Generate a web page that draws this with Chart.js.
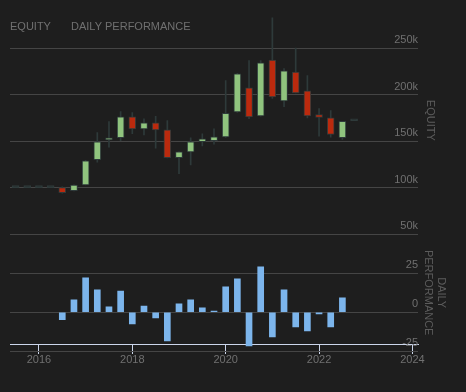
<!DOCTYPE html>
<html>
<head>
<meta charset="utf-8">
<script src="https://cdn.jsdelivr.net/npm/chart.js@4.4.1/dist/chart.umd.min.js"></script>
<style>
  html, body { margin: 0; padding: 0; background: #1e1e1e; }
  #wrap { width: 466px; height: 392px; position: relative; }
</style>
</head>
<body>
<div id="wrap"><canvas id="chart"></canvas></div>
<script>
// quarterly points (decimal years)
const dates  = [2015.5, 2015.75, 2016, 2016.25, 2016.5, 2016.75, 2017, 2017.25, 2017.5, 2017.75,
                2018, 2018.25, 2018.5, 2018.75, 2019, 2019.25, 2019.5, 2019.75, 2020, 2020.25,
                2020.5, 2020.75, 2021, 2021.25, 2021.5, 2021.75, 2022, 2022.25, 2022.5, 2022.75];
const opens  = [100000, 100000, 100000, 100000, 100000, 96700, 103000, 130000, 151500, 153700,
                176200, 163300, 169800, 162300, 132200, 138600, 149400, 150500, 154700, 181600,
                207400, 177300, 237500, 193400, 224600, 204200, 178700, 175200, 153700, 172000];
const highs  = [100000, 100000, 100000, 100000, 101000, 103000, 129500, 159400, 171200, 181900,
                180900, 174100, 176900, 172300, 138600, 153700, 158000, 163300, 215300, 223000,
                236800, 236800, 283000, 228200, 250400, 220600, 185200, 183000, 171500, 172000];
const lows   = [100000, 100000, 100000, 100000, 94000, 96500, 103000, 127400, 143500, 150700,
                158000, 156900, 142500, 132000, 115000, 124600, 145000, 146800, 154000, 181000,
                174400, 177000, 196000, 187300, 202000, 175200, 155400, 154300, 152000, 172000];
const closes = [100000, 100000, 100000, 100000, 94500, 102700, 129000, 149400, 153700, 176200,
                163300, 169800, 162300, 132200, 138600, 149400, 152600, 154700, 180100, 222500,
                176200, 234300, 197700, 225700, 202000, 177300, 175600, 157200, 171500, 172000];
const perf   = [null, null, null, null, -4.7, 7.9, 22, 14.3, 3.4, 13.6,
                -7.5, 4, -3.7, -18.4, 5.3, 7.9, 2.8, 0.8, 16.2, 21.3,
                -21.6, 29, -15.8, 14.3, -9.4, -12, -1.1, -9.4, 9.2, null];
const equityTicks = [50000, 100000, 150000, 200000, 250000];
const perfTicks = [-25, 0, 25, 50];
const yearTicks = [2016, 2018, 2020, 2022, 2024];

const FONT = "'Liberation Sans', Arial, sans-serif";
const GREEN = "#90c47e";
const RED = "#bb2a0e";
const EDGE = "#2e3a3a";
const GRID = "#454545";
const TEXT = "#707070";

const bodies = dates.map((d, i) => ({ x: d, y: [opens[i], closes[i]] }));
const wicks = dates.map((d, i) => ({ x: d, y: [lows[i], highs[i]] }));
const bars = dates.map((d, i) => ({ x: d, y: perf[i] }));

function bodyColor(c) {
  const o = opens[c.dataIndex], cl = closes[c.dataIndex];
  if (o === cl) return EDGE;
  return cl > o ? GREEN : RED;
}

const headerText = {
  id: "headerText",
  afterDraw(chart) {
    const ctx = chart.ctx;
    ctx.save();
    ctx.font = "11px " + FONT;
    ctx.fillStyle = TEXT;
    ctx.textBaseline = "middle";
    ctx.fillText("EQUITY", 10, 27);
    ctx.fillText("DAILY PERFORMANCE", 71, 27);
    ctx.restore();
  }
};

Chart.defaults.font.family = FONT;
Chart.defaults.font.size = 11;
Chart.defaults.color = TEXT;

new Chart(document.getElementById("chart"), {
  type: "bar",
  data: {
    datasets: [
      {
        label: "EQUITY",
        data: bodies,
        yAxisID: "equity",
        grouped: false,
        barThickness: 7,
        minBarLength: 2,
        borderSkipped: false,
        borderWidth: 1,
        borderColor: EDGE,
        backgroundColor: bodyColor,
        order: 0,
      },
      {
        label: "wicks",
        data: wicks,
        yAxisID: "equity",
        grouped: false,
        barThickness: 1,
        backgroundColor: EDGE,
        order: 1,
      },
      {
        label: "DAILY PERFORMANCE",
        data: bars,
        yAxisID: "perf",
        grouped: false,
        barThickness: 6,
        backgroundColor: "#7cb5ec",
        order: 2,
      },
    ],
  },
  options: {
    responsive: true,
    maintainAspectRatio: false,
    animation: false,
    layout: { padding: { left: 10, right: 17.5, top: 0, bottom: 40.7 } },
    plugins: { legend: { display: false }, tooltip: { enabled: false } },
    scales: {
      x: {
        type: "linear",
        position: { perf: -20.5 },
        min: 2015.38,
        max: 2024.12,
        offset: false,
        afterBuildTicks: (s) => { s.ticks = yearTicks.map((v) => ({ value: v })); },
        ticks: { autoSkip: false, maxRotation: 0, padding: 0, callback: (v) => String(v) },
        grid: { drawOnChartArea: false, drawTicks: true, tickLength: 9, color: "#ccd6eb", offset: false },
        border: { color: "#ccd6eb", width: 1 },
      },
      equity: {
        type: "linear",
        position: "right",
        stack: "panes",
        stackWeight: 1.94,
        min: 50000,
        max: 295000,
        afterBuildTicks: (s) => { s.ticks = equityTicks.map((v) => ({ value: v })); },
        ticks: { mirror: true, padding: 0, labelOffset: -8, callback: (v) => v / 1000 + "k" },
        grid: { color: GRID, drawTicks: false },
        border: { display: false },
        title: { display: true, text: "EQUITY", color: "#5c5c5c", padding: { top: 15, bottom: 0 }, font: { size: 11, lineHeight: 1.15 } },
      },
      perf: {
        type: "linear",
        position: "right",
        stack: "panes",
        stackWeight: 1,
        min: -25,
        max: 50,
        afterBuildTicks: (s) => { s.ticks = perfTicks.map((v) => ({ value: v })); },
        ticks: { mirror: true, padding: 0, labelOffset: -8, callback: (v) => (v === 50 ? "" : String(v)) },
        grid: { color: GRID, drawTicks: false },
        border: { display: false },
        title: { display: true, text: ["DAILY", "PERFORMANCE"], color: "#5c5c5c", padding: { top: 4, bottom: 4 }, font: { size: 11, lineHeight: 1.15 } },
      },
    },
  },
  plugins: [headerText],
});
</script>
</body>
</html>
